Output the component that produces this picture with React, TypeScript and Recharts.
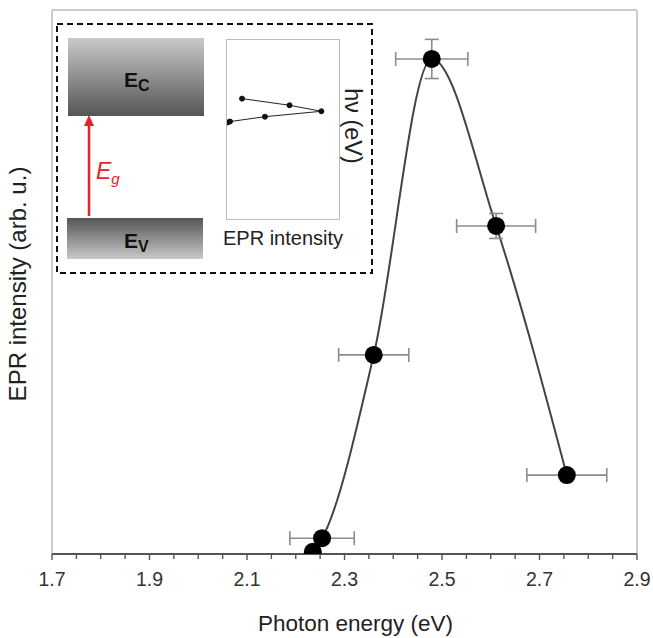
import { ComposedChart, LineChart, Line, Scatter, XAxis, YAxis, ErrorBar, ReferenceLine, Label } from 'recharts';

// photon energy of each EPR measurement (eV)
const energy = [2.235, 2.254, 2.36, 2.479, 2.611, 2.756];
// EPR signal (arb. u.)
const intensity = [0.4, 2.9, 36.6, 91.0, 60.3, 14.5];
// horizontal / vertical error bars
const energyErr = [0, 0.066, 0.072, 0.074, 0.081, 0.082];
const intensityErr = [0, 0, 0, 3.6, 2.3, 0];

const majorTicks = [1.7, 1.9, 2.1, 2.3, 2.5, 2.7, 2.9];
const tickLabels = ['1.7', '1.9', '2.1', '2.3', '2.5', '2.7', '2.9'];

// minor ticks every 0.05 eV between the labelled ones
const allTicks: number[] = [];
majorTicks.forEach((t, i) => {
  allTicks.push(t);
  if (i < majorTicks.length - 1) {
    [0.05, 0.1, 0.15].forEach(d => allTicks.push(+(t + d).toFixed(2)));
  }
});

const points = energy.map((e, i) => ({
  energy: e,
  intensity: intensity[i],
  energyErr: energyErr[i],
  intensityErr: intensityErr[i],
}));

const font = '"Liberation Sans", Arial, sans-serif';

const EnergyTick = (props: any) => {
  const { x, y, payload } = props;
  const idx = majorTicks.findIndex(m => Math.abs(m - payload.value) < 1e-6);
  return (
    <g>
      <line x1={x} y1={y} x2={x} y2={y + (idx >= 0 ? 6 : 5)} stroke="#555" strokeWidth={1.4} />
      {idx >= 0 && (
        <text x={x} y={y + 32} textAnchor="middle" fontSize={19.5} fontFamily={font} fill="#333">
          {tickLabels[idx]}
        </text>
      )}
    </g>
  );
};

const BigDot = (props: any) => <circle cx={props.cx} cy={props.cy} r={9} fill="#000" />;

const frame = '#cccccc';

const BandInset = () => (
  <svg width={653} height={638} style={{ position: 'absolute', left: 0, top: 0, pointerEvents: 'none' }}>
    <defs>
      <linearGradient id="cb" x1="0" y1="0" x2="0" y2="1">
        <stop offset="0" stopColor="#c9c9c9" />
        <stop offset="1" stopColor="#555" />
      </linearGradient>
      <linearGradient id="vb" x1="0" y1="0" x2="0" y2="1">
        <stop offset="0" stopColor="#555" />
        <stop offset="1" stopColor="#c9c9c9" />
      </linearGradient>
    </defs>
    <text transform="translate(17,284) rotate(-90)" textAnchor="middle" dominantBaseline="central"
      fontSize={24} fontFamily={font} fill="#222">EPR intensity (arb. u.)</text>

    <rect x={57} y={24} width={315} height={249} fill="none" stroke="#111" strokeWidth={2} strokeDasharray="6 4" />

    <rect x={68} y={38} width={136} height={78} fill="url(#cb)" />
    <text x={124} y={87} fontFamily={font} fontWeight="bold" fontSize={21} fill="#111">
      E<tspan fontSize={16} dy={4}>C</tspan>
    </text>
    <rect x={67} y={218} width={136} height={41} fill="url(#vb)" />
    <text x={124} y={248} fontFamily={font} fontWeight="bold" fontSize={21} fill="#111">
      E<tspan fontSize={16} dy={4}>V</tspan>
    </text>

    <line x1={89} y1={216} x2={89} y2={124} stroke="#e8202a" strokeWidth={2.5} />
    <polygon points="89,115 84,126 94,126" fill="#e8202a" />
    <text x={96} y={179} fontFamily={font} fontStyle="italic" fontSize={23} fill="#e8202a">
      E<tspan fontSize={15} dy={5}>g</tspan>
    </text>

    <rect x={226.5} y={39.5} width={113} height={180} fill="none" stroke="#bdbdbd" strokeWidth={1} />
    <text x={283} y={245} textAnchor="middle" fontFamily={font} fontSize={20} fill="#222">EPR intensity</text>
    <text transform="translate(353,126) rotate(90)" textAnchor="middle" dominantBaseline="central"
      fontFamily={font} fontSize={23.5} fill="#222">hν (eV)</text>
  </svg>
);

export default function App() {
  return (
    <div style={{ position: 'absolute', left: 0, top: 0, width: 653, height: 638, background: '#fff' }}>
      <ComposedChart width={653} height={638} data={points} margin={{ top: 10, right: 16, bottom: 44, left: 52 }}>
        <XAxis type="number" dataKey="energy" domain={[1.7, 2.9]} allowDataOverflow ticks={allTicks} interval={0}
          height={40} tickSize={0} tickMargin={0} tickLine={false}
          axisLine={{ stroke: '#555', strokeWidth: 2 }} tick={<EnergyTick />}>
          <Label value="Photon energy (eV)" position="bottom" offset={21} dx={11} fontSize={22.5} fontFamily={font} fill="#222" />
        </XAxis>
        <YAxis type="number" domain={[0, 100]} allowDataOverflow hide />
        <ReferenceLine y={100} stroke={frame} strokeWidth={2} />
        <ReferenceLine x={1.7} stroke={frame} strokeWidth={2} />
        <ReferenceLine x={2.9} stroke={frame} strokeWidth={2} />
        <Line dataKey="intensity" type="monotone" stroke="#444" strokeWidth={2} dot={false} isAnimationActive={false} />
        <Scatter dataKey="intensity" shape={BigDot} isAnimationActive={false}>
          <ErrorBar dataKey="energyErr" direction="x" width={7} stroke="#8c8c8c" strokeWidth={1.6} />
          <ErrorBar dataKey="intensityErr" direction="y" width={7} stroke="#8c8c8c" strokeWidth={1.6} />
        </Scatter>
      </ComposedChart>
      <BandInset />
      <div style={{ position: 'absolute', left: 227, top: 40, width: 112, height: 179 }}>
        <LineChart width={112} height={179} data={points} margin={{ top: 0, right: 0, bottom: 0, left: 0 }}>
          <XAxis type="number" dataKey="intensity" domain={[0, 108]} allowDataOverflow hide />
          <YAxis type="number" domain={[0.12, 4.04]} allowDataOverflow hide />
          <Line dataKey="energy" type="linear" stroke="#222" strokeWidth={1}
            dot={{ r: 2.5, fill: '#111', stroke: '#111' }} isAnimationActive={false} />
        </LineChart>
      </div>
    </div>
  );
}
